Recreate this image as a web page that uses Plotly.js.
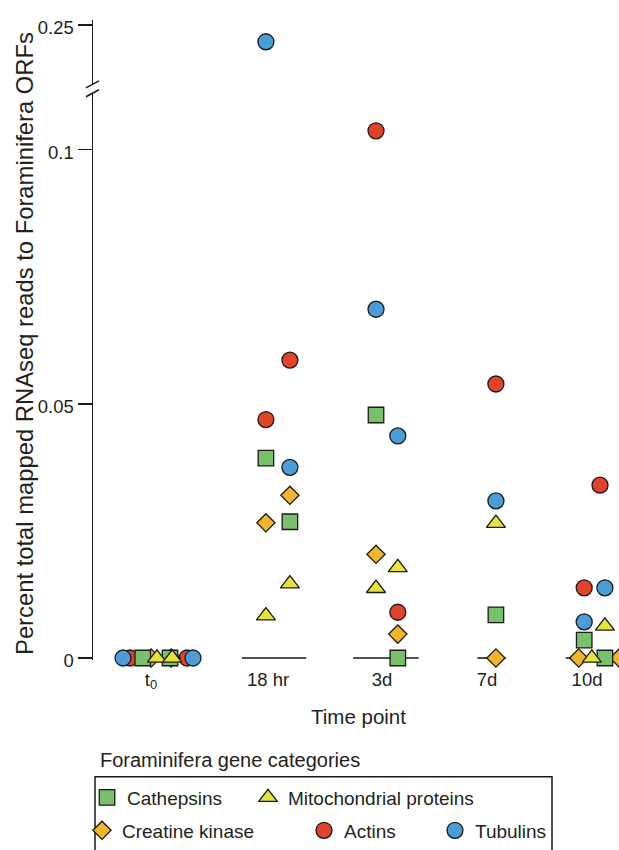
<!DOCTYPE html>
<html><head><meta charset="utf-8">
<script src="https://cdn.plot.ly/plotly-3.0.1.min.js"></script>
<style>html,body{margin:0;padding:0;background:#fff;overflow:hidden;width:619px;height:850px}</style>
</head><body><div id="chart" style="width:640px;height:850px"></div>
<script>
// ---------------- data ----------------
const timeLabels = ['t<sub>0</sub>', '18 hr', '3d', '7d', '10d'];
const timeLabelPos = [-0.174, 0.899, 1.945, 2.908, 3.826];

const cathepsinsGroup  = [0, 0, 1, 1, 2, 2, 3, 4, 4];
const cathepsinsJitter = [-0.25, 0.00, -0.12, 0.10, -0.11, 0.09, -0.01, -0.20, -0.01];
const cathepsinsValue  = [0, 0, 0.0393, 0.0268, 0.0478, 0, 0.0085, 0.0035, 0];

const mitoGroup  = [0, 0, 1, 1, 2, 2, 3, 4, 4];
const mitoJitter = [-0.12, 0.02, -0.12, 0.10, -0.11, 0.09, -0.01, -0.01, -0.13];
const mitoValue  = [0, 0, 0.0083, 0.0146, 0.0137, 0.0178, 0.0265, 0.0063, 0];

const creatineGroup  = [0, 0, 1, 1, 2, 2, 3, 4, 4];
const creatineJitter = [-0.174, 0.01, -0.12, 0.10, -0.11, 0.09, -0.01, -0.25, 0.12];
const creatineValue  = [0, 0, 0.0266, 0.0320, 0.0204, 0.0047, 0, 0, 0];

const actinsGroup  = [0, 0, 1, 1, 2, 2, 3, 4, 4];
const actinsJitter = [-0.367, 0.156, -0.12, 0.10, -0.11, 0.09, -0.01, -0.055, -0.20];
const actinsValue  = [0, 0, 0.0469, 0.0586, 0.1037, 0.0090, 0.0539, 0.0340, 0.0138];

const tubulinsGroup  = [0, 0, 1, 1, 2, 2, 3, 4, 4];
const tubulinsJitter = [-0.431, 0.211, -0.12, 0.10, -0.11, 0.09, -0.01, -0.01, -0.20];
const tubulinsValue  = [0, 0, 0.2467, 0.0375, 0.0686, 0.0437, 0.0309, 0.0138, 0.0071];

// zero reference segments per time point (18 hr, 3d, 7d, 10d)
const baseStart = [0.66, 1.68, 2.82, 3.63];
const baseEnd   = [1.25, 2.28, 3.08, 4.40];

const lowerTickVals = [0, 0.05, 0.1];
const lowerTickText = ['0', '0.05', '0.1'];
const upperTickVals = [0.25];
const upperTickText = ['0.25'];

// ---------------- layout helpers ----------------
const W = 640, H = 850;   // drawing is wider than the 619px window so edge markers are cut like the reference
const M = {l: 93, r: 0, t: 20, b: 188};
const PW = W - M.l - M.r, PH = H - M.t - M.b;
const px2x = p => (p - M.l) / PW;
const py2y = p => (H - M.b - p) / PH;

const lowerRange = [-2 / 5100, 0.1111];
const upperRange = [0.23835, 0.25098];
const lowerDomain = [0, py2y(93.4)];
const upperDomain = [py2y(84.4), 1];

const FONT = 'Liberation Sans, Arial, Helvetica, sans-serif';
const TXT = '#231f20';
const EDGE = '#1a1a1a';

const series = [
  {name: 'Actins', g: actinsGroup, j: actinsJitter, v: actinsValue, sym: 'circle', size: 16, color: '#e2432b', legend: 'legend4'},
  {name: 'Tubulins', g: tubulinsGroup, j: tubulinsJitter, v: tubulinsValue, sym: 'circle', size: 16, color: '#4a9dd6', legend: 'legend5'},
  {name: 'Creatine kinase', g: creatineGroup, j: creatineJitter, v: creatineValue, sym: 'diamond', size: 14, color: '#f3b52a', legend: 'legend3'},
  {name: 'Cathepsins', g: cathepsinsGroup, j: cathepsinsJitter, v: cathepsinsValue, sym: 'square', size: 15.5, color: '#78c06a', legend: 'legend'},
  {name: 'Mitochondrial proteins', g: mitoGroup, j: mitoJitter, v: mitoValue, sym: 'triangle-up', size: 16.5, color: '#e6e33b', legend: 'legend2'}
];

const traces = [];
const bx = [], by = [];
baseStart.forEach((s, i) => { bx.push(s, baseEnd[i], null); by.push(0, 0, null); });
traces.push({x: bx, y: by, mode: 'lines', line: {color: EDGE, width: 1.6}, showlegend: false, hoverinfo: 'skip', cliponaxis: false, xaxis: 'x', yaxis: 'y'});

series.forEach(s => {
  const lx = [], ly = [], ux = [], uy = [];
  s.v.forEach((val, i) => {
    const xv = s.g[i] + s.j[i];
    if (val <= lowerRange[1]) { lx.push(xv); ly.push(val); } else { ux.push(xv); uy.push(val); }
  });
  const marker = {symbol: s.sym, size: s.size, color: s.color, line: {color: EDGE, width: 1.3}};
  traces.push({x: lx, y: ly, name: s.name, mode: 'markers', marker: marker, cliponaxis: false, xaxis: 'x', yaxis: 'y', legend: s.legend});
  if (ux.length) traces.push({x: ux, y: uy, name: s.name, mode: 'markers', marker: marker, cliponaxis: false, xaxis: 'x', yaxis: 'y2', showlegend: false});
});

const legendFont = {family: FONT, size: 19, color: TXT};
function leg(textStartPx, centerPy) {
  return {x: px2x(textStartPx - 40), y: py2y(centerPy), xanchor: 'left', yanchor: 'middle',
          orientation: 'h', bgcolor: 'rgba(0,0,0,0)', borderwidth: 0, font: legendFont, itemwidth: 30};
}

const layout = {
  width: W, height: H,
  margin: M,
  paper_bgcolor: '#fff', plot_bgcolor: '#fff',
  font: {family: FONT, color: TXT},
  showlegend: true,
  xaxis: {
    range: [(M.l - 170) / 109, (W - 170) / 109],
    anchor: 'y',
    showline: false, showgrid: false, zeroline: false, ticks: '',
    tickmode: 'array', tickvals: timeLabelPos, ticktext: timeLabels,
    tickfont: {family: FONT, size: 18.5, color: TXT},
    ticklabelstandoff: 6
  },
  yaxis: {
    domain: lowerDomain, range: lowerRange, anchor: 'x',
    showline: true, linecolor: EDGE, linewidth: 1.5,
    showgrid: false, zeroline: false,
    ticks: 'outside', ticklen: 14, tickwidth: 1.5, tickcolor: EDGE,
    tickmode: 'array', tickvals: lowerTickVals, ticktext: lowerTickText,
    tickfont: {family: FONT, size: 18.5, color: TXT},
    ticklabelstandoff: 0, ticklabelshift: 3
  },
  yaxis2: {
    domain: upperDomain, range: upperRange, anchor: 'x',
    showline: true, linecolor: EDGE, linewidth: 1.5,
    showgrid: false, zeroline: false,
    ticks: 'outside', ticklen: 14, tickwidth: 1.5, tickcolor: EDGE,
    tickmode: 'array', tickvals: upperTickVals, ticktext: upperTickText,
    tickfont: {family: FONT, size: 18.5, color: TXT},
    ticklabelstandoff: 0, ticklabelshift: 3
  },
  legend: leg(127, 800),
  legend2: leg(288, 800),
  legend3: leg(122, 833),
  legend4: leg(344, 833),
  legend5: leg(475, 833),
  shapes: [
    {type: 'line', xref: 'paper', yref: 'paper', x0: px2x(86), y0: py2y(88), x1: px2x(99), y1: py2y(81), line: {color: EDGE, width: 1.5}},
    {type: 'line', xref: 'paper', yref: 'paper', x0: px2x(86), y0: py2y(97), x1: px2x(99), y1: py2y(90), line: {color: EDGE, width: 1.5}},
    {type: 'rect', xref: 'paper', yref: 'paper', x0: px2x(95), x1: px2x(552), y0: py2y(779), y1: py2y(880), line: {color: EDGE, width: 1.5}, fillcolor: 'rgba(0,0,0,0)'}
  ],
  annotations: [
    {text: 'Percent total mapped RNAseq reads to Foraminifera ORFs', textangle: -90, xref: 'paper', yref: 'paper',
     x: px2x(25), y: py2y(345), xanchor: 'center', yanchor: 'middle', showarrow: false,
     font: {family: FONT, size: 23.8, color: TXT}},
    {text: 'Time point', xref: 'paper', yref: 'paper', x: px2x(358), y: py2y(719),
     xanchor: 'center', yanchor: 'middle', showarrow: false, font: {family: FONT, size: 20.5, color: TXT}},
    {text: 'Foraminifera gene categories', xref: 'paper', yref: 'paper', x: px2x(98), y: py2y(762),
     xanchor: 'left', yanchor: 'middle', showarrow: false, font: {family: FONT, size: 20, color: TXT}}
  ]
};

Plotly.newPlot('chart', traces, layout, {displayModeBar: false, staticPlot: true});
</script></body></html>
